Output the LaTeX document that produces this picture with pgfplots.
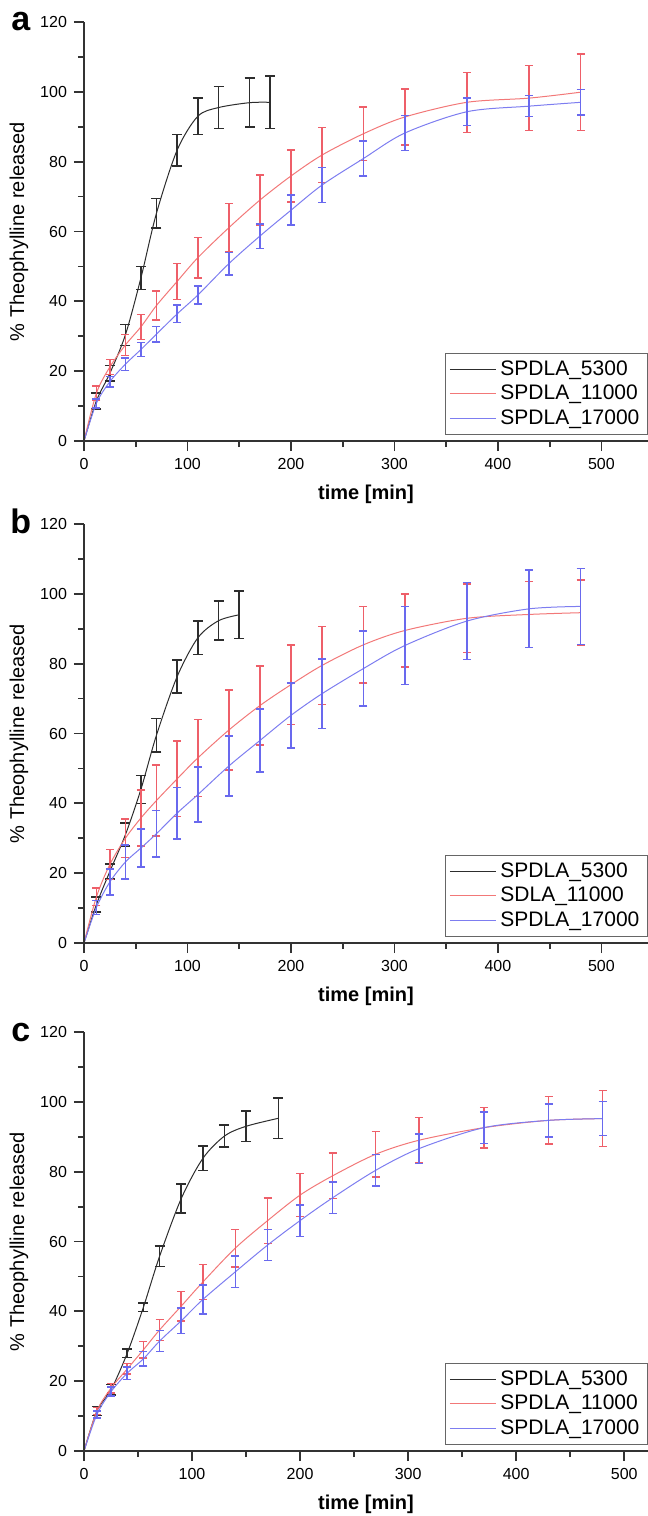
\documentclass[border=0pt]{standalone}
\usepackage{fontspec}
\setmainfont{Liberation Sans}
\usepackage{pgfplots}
\usepackage{pgfplotstable}
\pgfplotsset{compat=1.18}

\definecolor{curveK}{RGB}{45,45,45}
\definecolor{curveR}{RGB}{242,120,120}
\definecolor{curveB}{RGB}{125,125,240}
\definecolor{barR}{RGB}{238,95,105}
\definecolor{barB}{RGB}{105,105,238}

% panel a
\pgfplotstableread{
t v e
0 0 0
12 11.5 2.3
25 19.4 2.2
40 30.4 3
55 46.7 3.3
70 65.2 4.2
90 83.3 4.5
110 93 5.2
130 95.5 6
160 96.9 7
180 97 7.5
}\aK
\pgfplotstableread{
t v e
0 0 0
12 13.7 2
25 21.2 2.2
40 27.5 3
55 32.7 3.6
70 38.8 4.2
90 45.7 5.2
110 52.5 5.8
140 61.1 6.9
170 69 7.2
200 75.9 7.5
230 81.9 7.9
270 88 7.6
310 92.8 8
370 97 8.6
430 98.2 9.3
480 99.9 11
}\aR
\pgfplotstableread{
t v e
0 0 0
12 10.8 1.3
25 17 1.5
40 22 1.8
55 26.2 2
70 30.6 2.2
90 36.4 2.5
110 41.8 2.6
140 50.8 3.2
170 58.7 3.5
200 66.1 4.3
230 73.3 5
270 80.9 5
310 88.2 5
370 94.3 4
430 95.9 3
480 97 3.7
}\aB
% panel b
\pgfplotstableread{
t v e
0 0 0
12 11 2.2
25 20.5 2.2
40 31 3.3
55 44 4
70 59.5 4.8
90 76.3 4.7
110 87.4 4.8
130 92.3 5.6
150 94 6.8
}\bK
\pgfplotstableread{
t v e
0 0 0
12 13.2 2.5
25 22.5 4.3
40 30 5.5
55 35.8 8
70 40.8 10.2
90 47 10.8
110 53 11
140 61 11.5
170 68 11.3
200 74 11.4
230 79.5 11.2
270 85.4 11
310 89.5 10.5
370 93 9.8
430 94.1 9.4
480 94.6 9.3
}\bR
\pgfplotstableread{
t v e
0 0 0
12 10.2 2
25 17.5 3.7
40 23.2 4.8
55 27.2 5.5
70 31.3 6.6
90 37.2 7.4
110 42.5 7.9
140 50.7 8.6
170 58 9
200 65.2 9.3
230 71.4 9.9
270 78.6 10.7
310 85.2 11.2
370 92.2 11
430 95.7 11.1
480 96.4 10.9
}\bB
% panel c
\pgfplotstableread{
t v e
0 0 0
12 11.5 1.3
25 17.5 1.5
40 28 1.2
55 41.2 1.2
70 55.8 3
90 72.3 4.2
110 83.8 3.5
130 90.2 3.2
150 93 4.3
180 95.3 5.8
}\cK
\pgfplotstableread{
t v e
0 0 0
12 11.5 1
25 18 1.4
40 23.5 1.5
55 29 2.3
70 34.7 3
90 41.5 4.2
110 48.4 5
140 58.1 5.4
170 66 6.5
200 73.3 6.2
230 78.8 6.5
270 85 6.5
310 89 6.5
370 92.6 5.8
430 94.7 6.8
480 95.2 8
}\cR
\pgfplotstableread{
t v e
0 0 0
12 10.5 1
25 17 1.3
40 22.3 1.8
55 26.4 2.1
70 31.5 3
90 37.3 3.6
110 43.4 4.1
140 51.3 4.5
170 59 4.5
200 66 4.5
230 72.5 4.5
270 80.4 4.5
310 86.6 4.2
370 92.6 4.5
430 94.7 4.7
480 95.2 4.9
}\cB

\pgfplotsset{
  panel/.style={
    scale only axis, width=282pt, height=209.5pt,
    anchor=south west,
    axis lines*=left, axis on top, clip=false,
    axis line style={line width=1pt, black!80},
    xmin=0, ymin=0, ymax=120,
    xtick={0,100,...,500}, ytick={0,20,...,120},
    minor x tick num=1, minor y tick num=1,
    tick align=outside, major tick length=5pt, minor tick length=3pt,
    every tick/.style={line width=0.9pt, black!80},
    /pgf/number format/assume math mode=true,
    ticklabel style={font=\fontsize{8}{9}\selectfont},
    xlabel={\textbf{time [min]}},
    ylabel={\% Theophylline released},
    label style={font=\fontsize{10}{12}\selectfont},
    xlabel style={at={(axis description cs:0.5,-0.1265)}, anchor=center},
    ylabel style={at={(axis description cs:-0.1152,0.5)}, anchor=center},
    legend style={at={(axis description cs:1,0.0143)}, anchor=south east,
      draw=black!60, line width=0.6pt, fill=white,
      font=\fontsize{10.5}{12}\selectfont, inner xsep=2pt, inner ysep=1.5pt,
      row sep=-0.5pt},
    legend cell align=left,
    legend image code/.code={\draw[#1] (0pt,0pt) -- (23pt,0pt);},
  },
  serK/.style={curveK, line width=0.5pt, smooth, mark=none,
    error bars/y dir=both, error bars/y explicit,
    error bars/error bar style={line width=0.8pt, draw=curveK},
    error bars/error mark options={rotate=90, line width=0.8pt, draw=curveK, mark size=2.5pt}},
  serR/.style={curveR, line width=0.5pt, smooth, mark=none,
    error bars/y dir=both, error bars/y explicit,
    error bars/error bar style={line width=0.75pt, draw=barR},
    error bars/error mark options={rotate=90, line width=0.75pt, draw=barR, mark size=2pt}},
  serB/.style={curveB, line width=0.5pt, smooth, mark=none,
    error bars/y dir=both, error bars/y explicit,
    error bars/error bar style={line width=0.75pt, draw=barB},
    error bars/error mark options={rotate=90, line width=0.75pt, draw=barB, mark size=2pt}},
}

\begin{document}
\begin{tikzpicture}
\path[use as bounding box] (0pt,0pt) rectangle (324pt,-758pt);

\begin{axis}[panel, at={(42pt,-220.5pt)}, xmax=545]
\addplot[serK] table[x=t, y=v, y error=e] {\aK};
\addplot[serR] table[x=t, y=v, y error=e] {\aR};
\addplot[serB] table[x=t, y=v, y error=e] {\aB};
\legend{SPDLA\_5300, SPDLA\_11000, SPDLA\_17000}
\node[font=\bfseries\fontsize{17}{17}\selectfont] at (axis description cs:-0.112,1.0) {a};
\end{axis}

\begin{axis}[panel, at={(42pt,-471.5pt)}, xmax=545]
\addplot[serK] table[x=t, y=v, y error=e] {\bK};
\addplot[serR] table[x=t, y=v, y error=e] {\bR};
\addplot[serB] table[x=t, y=v, y error=e] {\bB};
\legend{SPDLA\_5300, SDLA\_11000, SPDLA\_17000}
\node[font=\bfseries\fontsize{17}{17}\selectfont] at (axis description cs:-0.112,1.007) {b};
\end{axis}

\begin{axis}[panel, at={(42pt,-725.5pt)}, xmax=522]
\addplot[serK] table[x=t, y=v, y error=e] {\cK};
\addplot[serR] table[x=t, y=v, y error=e] {\cR};
\addplot[serB] table[x=t, y=v, y error=e] {\cB};
\legend{SPDLA\_5300, SPDLA\_11000, SPDLA\_17000}
\node[font=\bfseries\fontsize{17}{17}\selectfont] at (axis description cs:-0.112,1.0) {c};
\end{axis}
\end{tikzpicture}
\end{document}
